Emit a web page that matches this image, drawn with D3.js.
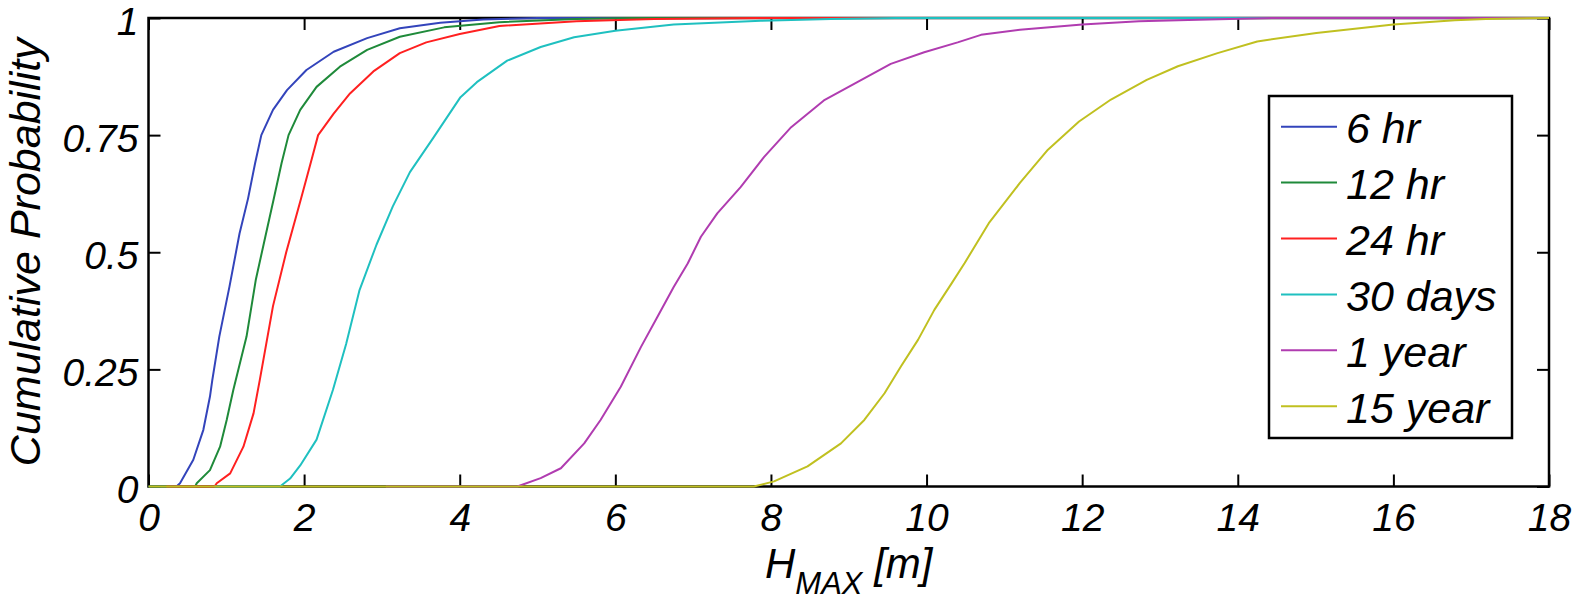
<!DOCTYPE html>
<html>
<head>
<meta charset="utf-8">
<script src="https://cdn.jsdelivr.net/npm/d3@7"></script>
<style>
  html, body { margin: 0; padding: 0; background: #fff; }
  svg { display: block; }
  text { font-family: "Liberation Sans", Arial, sans-serif; font-style: italic; fill: #000; }
</style>
</head>
<body>
<div id="chart"></div>
<script>
// Values: [H_MAX in m, cumulative probability]
const hr6 = [[0, 0], [0.36, 0], [0.405, 0.007], [0.576, 0.057], [0.705, 0.121], [0.79, 0.192], [0.82, 0.227],
  [0.91, 0.32], [1.04, 0.426], [1.17, 0.54], [1.28, 0.615], [1.37, 0.69], [1.45, 0.75], [1.6, 0.804],
  [1.78, 0.846], [2.03, 0.889], [2.38, 0.928], [2.81, 0.957], [3.23, 0.978], [3.75, 0.99], [4.3, 0.997],
  [5.0, 1], [18, 1]];
const hr12 = [[0, 0], [0.6, 0], [0.62, 0.007], [0.79, 0.035], [0.92, 0.085], [1.005, 0.142], [1.09, 0.206],
  [1.26, 0.32], [1.38, 0.442], [1.5, 0.532], [1.61, 0.614], [1.71, 0.69], [1.8, 0.75], [1.95, 0.804],
  [2.16, 0.853], [2.46, 0.896], [2.81, 0.932], [3.23, 0.96], [3.8, 0.98], [4.51, 0.991], [5.5, 0.998],
  [6.2, 1], [18, 1]];
const hr24 = [[0.23, 0], [0.85, 0], [0.877, 0.007], [1.05, 0.028], [1.22, 0.085], [1.35, 0.156], [1.43, 0.227],
  [1.6, 0.385], [1.77, 0.5], [1.96, 0.614], [2.1, 0.7], [2.18, 0.75], [2.38, 0.796], [2.59, 0.839],
  [2.89, 0.886], [3.23, 0.925], [3.57, 0.948], [4.0, 0.966], [4.51, 0.983], [5.5, 0.993], [6.5, 0.998],
  [7.8, 1], [18, 1]];
const days30 = [[0.85, 0], [1.69, 0], [1.82, 0.017], [1.95, 0.045], [2.16, 0.1], [2.37, 0.206], [2.54, 0.304],
  [2.71, 0.418], [2.93, 0.516], [3.14, 0.598], [3.36, 0.671], [3.66, 0.744], [4.01, 0.831], [4.22, 0.863],
  [4.61, 0.909], [5.04, 0.938], [5.47, 0.959], [6.0, 0.973], [6.75, 0.986], [7.87, 0.994], [8.77, 0.998],
  [9.6, 1], [18, 1]];
const year1 = [[3.05, 0], [4.74, 0], [5.04, 0.018], [5.3, 0.039], [5.6, 0.092], [5.81, 0.142], [6.07, 0.213],
  [6.33, 0.298], [6.54, 0.362], [6.75, 0.426], [6.93, 0.476], [7.1, 0.533], [7.31, 0.583], [7.61, 0.639],
  [7.91, 0.703], [8.26, 0.767], [8.68, 0.824], [9.11, 0.863], [9.54, 0.902], [9.97, 0.927], [10.4, 0.948],
  [10.7, 0.964], [11.2, 0.975], [12.0, 0.986], [12.73, 0.993], [13.49, 0.996], [14.45, 1], [18, 1]];
const year15 = [[0, 0], [7.78, 0], [8.04, 0.011], [8.47, 0.043], [8.9, 0.092], [9.2, 0.142], [9.46, 0.199],
  [9.67, 0.256], [9.89, 0.313], [10.1, 0.377], [10.32, 0.433], [10.49, 0.477], [10.8, 0.562], [11.2, 0.648],
  [11.56, 0.719], [11.96, 0.779], [12.37, 0.826], [12.83, 0.868], [13.23, 0.897], [13.74, 0.925],
  [14.25, 0.95], [15.01, 0.968], [16.0, 0.986], [16.79, 0.995], [17.19, 0.998], [18, 1]];

const seriesNames = ["6 hr", "12 hr", "24 hr", "30 days", "1 year", "15 year"];
const seriesValues = [hr6, hr12, hr24, days30, year1, year15];
const seriesColors = ["#3344bb", "#1f8a3a", "#ff2020", "#1fc0c0", "#b03cb0", "#c0c020"];

const xTicks = [0, 2, 4, 6, 8, 10, 12, 14, 16, 18];
const yTicks = [0, 0.25, 0.5, 0.75, 1];
const yTickLabels = ["0", "0.25", "0.5", "0.75", "1"];

const width = 1576, height = 601;
const margin = { top: 18, right: 27, bottom: 114.5, left: 148.5 };
const innerW = width - margin.left - margin.right;
const innerH = height - margin.top - margin.bottom;

const svg = d3.select("#chart").append("svg")
  .attr("width", width).attr("height", height);

const x = d3.scaleLinear().domain([0, 18]).range([margin.left, margin.left + innerW]);
const y = d3.scaleLinear().domain([0, 1]).range([margin.top + innerH, margin.top]);

// axes with inward ticks on all four sides (box on)
const tickLen = 12;
const axisStyle = (g) => {
  g.select(".domain").remove();
  g.selectAll(".tick line").attr("stroke", "#000").attr("stroke-width", 2);
  g.selectAll(".tick text").attr("font-size", 39).attr("fill", "#000").attr("font-style", "italic");
};

svg.append("g")
  .attr("transform", `translate(0, ${y(0)})`)
  .call(d3.axisBottom(x).tickValues(xTicks).tickSize(-tickLen).tickPadding(17).tickFormat(d3.format("d")))
  .call(axisStyle);

svg.append("g")
  .attr("transform", `translate(${x(0)}, 0)`)
  .call(d3.axisLeft(y).tickValues(yTicks).tickSize(-tickLen).tickPadding(10)
    .tickFormat((d, i) => yTickLabels[i]))
  .call(axisStyle)
  .call((g) => g.selectAll(".tick text").attr("dy", "0.41em"));

svg.append("g")
  .attr("transform", `translate(0, ${y(1)})`)
  .call(d3.axisTop(x).tickValues(xTicks).tickSize(-tickLen).tickFormat(""))
  .call(axisStyle);

svg.append("g")
  .attr("transform", `translate(${x(18)}, 0)`)
  .call(d3.axisRight(y).tickValues(yTicks).tickSize(-tickLen).tickFormat(""))
  .call(axisStyle);

svg.append("rect")
  .attr("x", x(0)).attr("y", y(1))
  .attr("width", x(18) - x(0)).attr("height", y(0) - y(1))
  .attr("fill", "none").attr("stroke", "#000").attr("stroke-width", 2.5);

// curves, plotted in legend order (last on top)
const line = d3.line().x((d) => x(d[0])).y((d) => y(d[1]));
svg.append("g").selectAll("path")
  .data(seriesValues)
  .join("path")
  .attr("d", line)
  .attr("fill", "none")
  .attr("stroke", (d, i) => seriesColors[i])
  .attr("stroke-width", 2)
  .attr("stroke-linejoin", "round");

// axis titles
svg.append("text")
  .attr("transform", `translate(40, ${(y(0) + y(1)) / 2}) rotate(-90)`)
  .attr("text-anchor", "middle")
  .attr("font-size", 43)
  .text("Cumulative Probability");

const xTitle = svg.append("text")
  .attr("x", (x(0) + x(18)) / 2)
  .attr("y", 578)
  .attr("text-anchor", "middle")
  .attr("font-size", 42);
xTitle.append("tspan").text("H");
xTitle.append("tspan").attr("font-size", 31).attr("dy", 16).text("MAX");
xTitle.append("tspan").attr("dy", -16).text(" [m]");

// legend
const legend = svg.append("g");
legend.append("rect")
  .attr("x", 1269).attr("y", 96)
  .attr("width", 243).attr("height", 342)
  .attr("fill", "#fff").attr("stroke", "#000").attr("stroke-width", 2.5);

const items = legend.selectAll("g.item")
  .data(seriesNames)
  .join("g")
  .attr("class", "item")
  .attr("transform", (d, i) => `translate(0, ${126.7 + i * 55.9})`);

items.append("line")
  .attr("x1", 1281).attr("x2", 1337)
  .attr("stroke", (d, i) => seriesColors[i])
  .attr("stroke-width", 2);

items.append("text")
  .attr("x", 1346)
  .attr("dy", "0.38em")
  .attr("font-size", 43)
  .text((d) => d);
</script>
</body>
</html>
